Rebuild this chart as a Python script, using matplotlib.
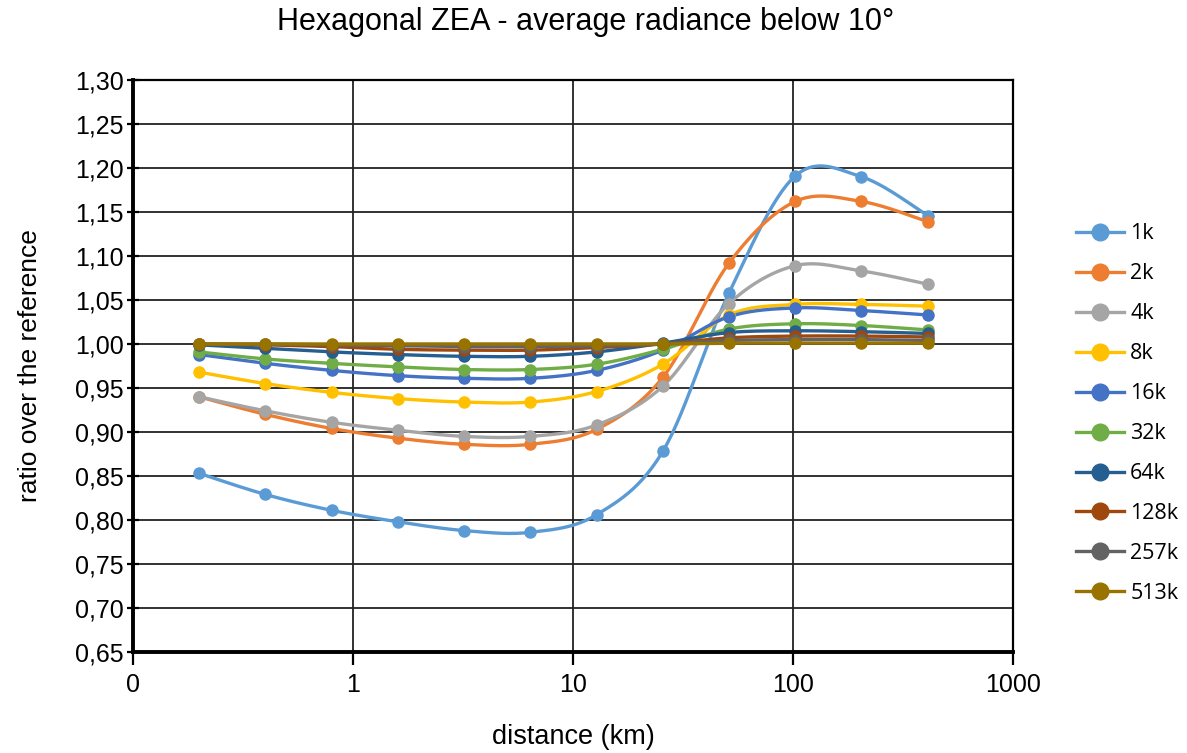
import numpy as np
import matplotlib.pyplot as plt
from matplotlib.ticker import FixedLocator, FixedFormatter

# distances (km)
distance = [0.2, 0.4, 0.8, 1.6, 3.2, 6.4, 12.8, 25.6, 51.2, 102.4, 204.8, 409.6]

series_names = ['1k', '2k', '4k', '8k', '16k', '32k', '64k', '128k', '257k', '513k']

r_1k = [0.853, 0.829, 0.811, 0.798, 0.788, 0.786, 0.806, 0.878, 1.058, 1.191, 1.190, 1.146]
r_2k = [0.940, 0.920, 0.904, 0.893, 0.886, 0.886, 0.903, 0.962, 1.092, 1.162, 1.162, 1.139]
r_4k = [0.940, 0.924, 0.911, 0.902, 0.895, 0.895, 0.908, 0.952, 1.046, 1.089, 1.083, 1.068]
r_8k = [0.968, 0.955, 0.945, 0.938, 0.934, 0.934, 0.946, 0.977, 1.033, 1.045, 1.045, 1.043]
r_16k = [0.988, 0.978, 0.970, 0.964, 0.961, 0.961, 0.970, 0.993, 1.031, 1.041, 1.038, 1.033]
r_32k = [0.991, 0.983, 0.978, 0.974, 0.971, 0.971, 0.977, 0.994, 1.017, 1.023, 1.021, 1.016]
r_64k = [0.999, 0.995, 0.991, 0.988, 0.986, 0.986, 0.991, 1.001, 1.013, 1.015, 1.014, 1.012]
r_128k = [1.000, 0.999, 0.997, 0.994, 0.993, 0.993, 0.996, 1.000, 1.007, 1.009, 1.009, 1.008]
r_257k = [1.000, 1.000, 0.999, 0.998, 0.997, 0.997, 0.998, 1.000, 1.004, 1.005, 1.005, 1.004]
r_513k = [1.000, 1.000, 1.000, 1.000, 1.000, 1.000, 1.000, 1.000, 1.001, 1.001, 1.001, 1.001]

colores = ['#5B9BD5', '#ED7D31', '#A5A5A5', '#FFC000', '#4472C4',
           '#70AD47', '#255E91', '#9E480E', '#636363', '#997300']

y_ticks = [0.65, 0.70, 0.75, 0.80, 0.85, 0.90, 0.95, 1.00, 1.05, 1.10, 1.15, 1.20, 1.25, 1.30]
x_ticks = [0.1, 1, 10, 100, 1000]
x_labels = ['0', '1', '10', '100', '1000']


def curva_suave(xs, ys, pasos=30):
    """Curva tipo Excel (Catmull-Rom / Bezier) en espacio log10(x)."""
    lx = np.log10(xs)
    ys = np.asarray(ys, dtype=float)
    px = np.concatenate([[lx[0]], lx, [lx[-1]]])
    py = np.concatenate([[ys[0]], ys, [ys[-1]]])
    out_x, out_y = [], []
    t = np.linspace(0, 1, pasos)
    for i in range(1, len(px) - 2):
        p0 = np.array([px[i], py[i]])
        p3 = np.array([px[i + 1], py[i + 1]])
        p1 = p0 + (np.array([px[i + 1], py[i + 1]]) - np.array([px[i - 1], py[i - 1]])) / 6
        p2 = p3 - (np.array([px[i + 2], py[i + 2]]) - np.array([px[i], py[i]])) / 6
        b = ((1 - t) ** 3)[:, None] * p0 + (3 * (1 - t) ** 2 * t)[:, None] * p1 \
            + (3 * (1 - t) * t ** 2)[:, None] * p2 + (t ** 3)[:, None] * p3
        out_x.extend(b[:, 0])
        out_y.extend(b[:, 1])
    return 10 ** np.array(out_x), np.array(out_y)


series = [r_1k, r_2k, r_4k, r_8k, r_16k, r_32k, r_64k, r_128k, r_257k, r_513k]

fig = plt.figure(figsize=(11.87, 7.53), dpi=100)
ax = fig.add_axes([133 / 1187, 1 - 652 / 753, 880 / 1187, 572 / 753])

for nombre, valores, c in zip(series_names, series, colores):
    sx, sy = curva_suave(distance, valores)
    ax.plot(sx, sy, color=c, lw=2.4, zorder=3)
    ax.plot(distance, valores, 'o', color=c, ms=8, zorder=4)
    # entrada de leyenda
    ax.plot([], [], color=c, lw=2.4, marker='o', ms=12, label=nombre)

ax.set_xscale('log')
ax.set_xlim(0.1, 1000)
ax.set_ylim(0.65, 1.30)
ax.xaxis.set_major_locator(FixedLocator(x_ticks))
ax.xaxis.set_major_formatter(FixedFormatter(x_labels))
ax.xaxis.set_minor_locator(FixedLocator([]))
ax.set_yticks(y_ticks)
ax.set_yticklabels([f'{v:.2f}'.replace('.', ',') for v in y_ticks])

ax.grid(True, color='#222222', lw=1.3, zorder=1)
for s in ax.spines.values():
    s.set_linewidth(1.6)
    s.set_color('black')
ax.spines['left'].set_linewidth(2.8)
ax.spines['bottom'].set_linewidth(2.8)
ax.tick_params(axis='y', direction='inout', length=9, width=1.6, labelsize=18, pad=2)
ax.tick_params(axis='x', direction='out', length=9, width=1.6, labelsize=18, pad=6)
for lab in ax.get_xticklabels() + ax.get_yticklabels():
    lab.set_family('Liberation Sans')

ax.set_xlabel('distance (km)', fontsize=19.5, family='Liberation Sans')
ax.set_ylabel('ratio over the reference', fontsize=19, family='Liberation Sans')
ax.xaxis.set_label_coords(0.5, -0.125)
ax.yaxis.set_label_coords(-0.103, 0.5)
fig.text(586 / 1187, 1 - 22 / 753, 'Hexagonal ZEA - average radiance below 10°',
         ha='center', va='center', fontsize=22, family='Liberation Sans')

fig.legend(loc='upper left', bbox_to_anchor=(1057 / 1187, 1 - 204 / 753),
           frameon=False, prop={'family': 'Open Sans', 'size': 15.5},
           handlelength=2.2, labelspacing=0.88, handletextpad=0.3)

fig.savefig('out.png', dpi=100)
